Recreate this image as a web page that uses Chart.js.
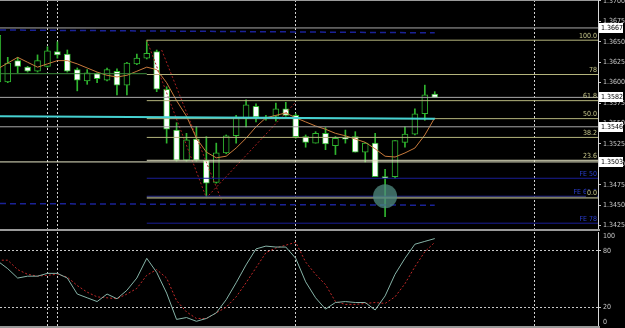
<!DOCTYPE html>
<html>
<head>
<meta charset="utf-8">
<script src="https://cdn.jsdelivr.net/npm/chart.js@4.4.0/dist/chart.umd.min.js"></script>
<style>
  body { margin: 0; background: #000; }
  canvas { position: absolute; left: 0; }
  #price { top: 0; }
  #stoch { top: 231px; }
</style>
</head>
<body>
<canvas id="price" width="625" height="231"></canvas>
<canvas id="stoch" width="625" height="97"></canvas>
<script>
// candles, oldest first (index 0 is cut by the left edge)
var opens  = [1.3601,1.3601,1.3627,1.3619,1.3614,1.3620,1.3638,1.3635,1.3616,1.3602,1.3611,1.3603,1.3614,1.3597,1.3623,1.3630,1.3638,1.3592,1.3542,1.3505,1.3531,1.3505,1.3478,1.3514,1.3535,1.3556,1.3571,1.3558,1.3559,1.3568,1.3560,1.3534,1.3526,1.3538,1.3523,1.3532,1.3534,1.3515,1.3526,1.3485,1.3485,1.3527,1.3537,1.3562,1.3586];
var highs  = [1.3661,1.3631,1.3631,1.3620,1.3634,1.3644,1.3650,1.3640,1.3618,1.3616,1.3612,1.3618,1.3617,1.3625,1.3635,1.3652,1.3640,1.3595,1.3551,1.3538,1.3546,1.3534,1.3526,1.3536,1.3560,1.3579,1.3574,1.3560,1.3575,1.3576,1.3562,1.3536,1.3540,1.3545,1.3534,1.3542,1.3540,1.3527,1.3538,1.3494,1.3529,1.3546,1.3568,1.3597,1.3589];
var lows   = [1.3600,1.3600,1.3612,1.3613,1.3613,1.3619,1.3630,1.3613,1.3590,1.3598,1.3600,1.3602,1.3585,1.3585,1.3622,1.3629,1.3589,1.3526,1.3504,1.3504,1.3504,1.3459,1.3477,1.3513,1.3526,1.3546,1.3552,1.3554,1.3553,1.3559,1.3532,1.3521,1.3526,1.3518,1.3512,1.3526,1.3515,1.3503,1.3485,1.3436,1.3483,1.3521,1.3536,1.3554,1.3582];
var closes = [1.3658,1.3624,1.3620,1.3614,1.3627,1.3639,1.3634,1.3614,1.3603,1.3612,1.3605,1.3616,1.3597,1.3624,1.3630,1.3636,1.3592,1.3543,1.3505,1.3530,1.3505,1.3477,1.3514,1.3535,1.3558,1.3573,1.3558,1.3557,1.3568,1.3560,1.3534,1.3527,1.3538,1.3525,1.3532,1.3531,1.3515,1.3526,1.3485,1.3483,1.3529,1.3537,1.3562,1.3585,1.3582];
var maValues = [1.3617,1.3624,1.3631,1.3625,1.3619,1.3623,1.3627,1.3627,1.3623,1.3618,1.3613,1.3609,1.3607,1.3609,1.3614,1.3619,1.3616,1.3600,1.3578,1.3559,1.3532,1.3515,1.3508,1.3510,1.3520,1.3532,1.3546,1.3557,1.3560,1.3563,1.3557,1.3552,1.3547,1.3543,1.3538,1.3535,1.3531,1.3527,1.3519,1.3510,1.3509,1.3514,1.3520,1.3536,1.3557];

// stochastic
var stochMain   = [69,61,51,53,53,56,56,51,34,30,26,34,29,38,51,72,57,35,7,9,5,8,14,28,46,65,82,85,84,84,72,47,30,18,25,26,25,25,17,32,55,72,87,90,93];
var stochSignal = [70,70,60,55,53,54,55,52,43,36,31,30,29,34,40,54,60,51,27,15,8,8,14,20,31,46,62,78,83,86,89,68,55,44,26,23,23,24,25,24,31,45,63,79,89];

// axis labels
var priceTicks = [1.3425,1.3450,1.3475,1.3500,1.3525,1.3550,1.3575,1.3600,1.3625,1.3650,1.3675,1.3700];
var stochTicks = [0,20,80,100];
var stochLevels = [20,80];
var separators = [5,6,30,54];

// objects on the chart
var markerPrices = [1.3667,1.3582,1.3546,1.3503];
var fibLevels = [1.3652,1.3610,1.3578,1.3556,1.3533,1.3505,1.3459];
var fibLabels = ['100.0','78','61.8','50.0','38.2','23.6','0.0'];
var feLevels = [1.3483,1.3461,1.3428];
var feLabels = ['FE 50','FE 61.8','FE 78'];
var upperTrend = [1.36645,1.3661];
var lowerTrend = [1.3452,1.3450];
var cyanTrend = [1.3559,1.3556];
var greenLevel = 1.3611;
var zigzagX = [15,21,30];
var zigzagY = [1.3652,1.3459,1.3576];
var zigzag2X = [16.5,22.5];
var zigzag2Y = [1.3640,1.3457];
var markX = [39];
var markY = [1.3461];

var X_MIN = 0.22, X_MAX = 60.44;
var LAST = opens.length - 1;
var FIB_START = 15;
var FONT = "'Liberation Sans Narrow', 'DejaVu Sans Condensed', 'Liberation Sans'";
var GREEN = '#2fb52f';

function hline(y, x0, x1, color, width, dash) {
    return {
        type: 'line', data: [{x: x0, y: y[0]}, {x: x1, y: y[1]}],
        borderColor: color, borderWidth: width, borderDash: dash || [],
        pointRadius: 0, order: 2
    };
}

var idx = opens.map(function (v, i) { return i; });

var datasets = [];
// wicks and bodies
datasets.push({
    data: idx.map(function (i) { return {x: i, y: [lows[i], highs[i]]}; }),
    backgroundColor: GREEN, barThickness: 1, grouped: false, order: 10
});
datasets.push({
    data: idx.map(function (i) { return {x: i, y: [opens[i], closes[i]]}; }),
    backgroundColor: idx.map(function (i) { return closes[i] < opens[i] ? '#ffffff' : '#000000'; }),
    borderColor: GREEN, borderWidth: 1, borderSkipped: false,
    barThickness: 6, grouped: false, order: 9
});
// moving average
datasets.push({
    type: 'line', data: idx.map(function (i) { return {x: i, y: maValues[i]}; }),
    borderColor: '#c87a3c', borderWidth: 1, pointRadius: 0, order: 5
});
// zigzag
datasets.push({
    type: 'line', data: zigzagX.map(function (x, k) { return {x: x, y: zigzagY[k]}; }),
    borderColor: '#a82020', borderWidth: 1, borderDash: [2, 2], pointRadius: 0, order: 6
});
datasets.push({
    type: 'line', data: zigzag2X.map(function (x, k) { return {x: x, y: zigzag2Y[k]}; }),
    borderColor: '#a82020', borderWidth: 1, borderDash: [2, 2], pointRadius: 0, order: 6
});
// levels
datasets.push(hline(upperTrend, X_MIN, LAST, '#1a2296', 1.5, [6, 4]));
datasets.push(hline(lowerTrend, X_MIN, LAST, '#1a2296', 1.5, [6, 4]));
datasets.push(hline(cyanTrend, X_MIN, LAST, '#46d2d2', 2));
datasets.push(hline([greenLevel, greenLevel], X_MIN, FIB_START, '#3c8c3c', 1));
fibLevels.forEach(function (p, k) {
    var c = k === 6 ? '#7e7e62' : (k === 5 ? '#e0e0c0' : '#b4b47c');
    datasets.push(hline([p, p], FIB_START, X_MAX, c, k === 6 ? 2 : 1));
});
feLevels.forEach(function (p) {
    datasets.push(hline([p, p], FIB_START, X_MAX, '#1a1e96', 1));
});
markerPrices.forEach(function (p, k) {
    datasets.push(hline([p, p], X_MIN, X_MAX, k === 3 ? '#e8e8c8' : '#a8a8a8', 1));
});
datasets.push({
    type: 'scatter', data: markX.map(function (x, k) { return {x: x, y: markY[k]}; }),
    backgroundColor: 'rgba(80,140,130,0.75)', borderWidth: 0, pointRadius: 12, order: 1
});

var priceDecor = {
    id: 'priceDecor',
    afterDraw: function (chart) {
        var ctx = chart.ctx, ca = chart.chartArea, yS = chart.scales.y;
        ctx.save();
        ctx.fillStyle = '#9a9a9a';
        ctx.fillRect(0, 0, ca.right, 1);
        ctx.fillRect(0, ca.bottom, ca.right + 2, 2);
        ctx.font = '7px ' + FONT;
        ctx.textAlign = 'right';
        ctx.textBaseline = 'bottom';
        feLevels.forEach(function (p, k) {
            ctx.fillStyle = '#2a3ed2';
            ctx.fillText(feLabels[k], ca.right - 1, yS.getPixelForValue(p) - 1);
        });
        fibLevels.forEach(function (p, k) {
            var y = yS.getPixelForValue(p) - 1;
            if (k === 6) {
                var w = ctx.measureText(fibLabels[k]).width;
                ctx.fillStyle = '#000';
                ctx.fillRect(ca.right - 2 - w, y - 7, w + 1, 7);
            }
            ctx.fillStyle = '#c8c88c';
            ctx.fillText(fibLabels[k], ca.right - 1, y);
        });
        ctx.textAlign = 'left';
        ctx.textBaseline = 'middle';
        markerPrices.forEach(function (p) {
            var y = Math.round(yS.getPixelForValue(p));
            ctx.fillStyle = '#ffffff';
            ctx.fillRect(ca.right + 1, y - 5, 24, 10);
            ctx.fillStyle = '#000000';
            ctx.fillText(p.toFixed(4), ca.right + 3, y + 0.5);
        });
        ctx.restore();
    }
};

function noPad(s) {
    s.paddingTop = 0; s.paddingBottom = 0; s.paddingLeft = 0; s.paddingRight = 0;
}

var xAxis = {
    type: 'linear', min: X_MIN, max: X_MAX, offset: false,
    afterBuildTicks: function (s) { s.ticks = separators.map(function (v) { return {value: v}; }); },
    afterFit: function (s) { s.height = 0; noPad(s); },
    ticks: {display: false},
    grid: {color: '#d0d0d0', drawTicks: false, offset: false},
    border: {display: false, dash: [2, 2]}
};

new Chart(document.getElementById('price'), {
    type: 'bar',
    data: {datasets: datasets},
    options: {
        responsive: false, animation: false,
        layout: {autoPadding: false, padding: {left: 0, right: 0, top: 0, bottom: 2}},
        plugins: {legend: {display: false}, tooltip: {enabled: false}},
        scales: {
            x: xAxis,
            y: {
                position: 'right', min: 1.34209, max: 1.37012,
                afterBuildTicks: function (s) { s.ticks = priceTicks.map(function (v) { return {value: v}; }); },
                afterFit: function (s) { s.width = 27; noPad(s); },
                ticks: {
                    autoSkip: false, padding: 2, color: '#c8c8c8',
                    font: {family: FONT, size: 7},
                    callback: function (v) { return v.toFixed(4); }
                },
                grid: {drawOnChartArea: false, drawTicks: true, tickLength: 3, color: '#c8c8c8'},
                border: {display: true, color: '#d8d8d8'}
            }
        }
    },
    plugins: [priceDecor]
});

var stochDecor = {
    id: 'stochDecor',
    afterDraw: function (chart) {
        var ctx = chart.ctx, ca = chart.chartArea, yS = chart.scales.y;
        ctx.save();
        ctx.fillStyle = '#9a9a9a';
        ctx.fillRect(0, ca.bottom, ca.right + 2, 2);
        ctx.font = '7px ' + FONT;
        ctx.fillStyle = '#c8c8c8';
        ctx.textAlign = 'left';
        ctx.textBaseline = 'middle';
        stochTicks.forEach(function (v) {
            var y = Math.min(Math.max(yS.getPixelForValue(v), ca.top + 4), ca.bottom - 4);
            ctx.fillText(String(v), ca.right + 5, y);
        });
        ctx.restore();
    }
};

new Chart(document.getElementById('stoch'), {
    type: 'line',
    data: {
        datasets: [
            {data: idx.map(function (i) { return {x: i, y: stochMain[i]}; }),
             borderColor: '#86b4a8', borderWidth: 1, pointRadius: 0},
            {data: idx.map(function (i) { return {x: i, y: stochSignal[i]}; }),
             borderColor: '#c02828', borderWidth: 1, borderDash: [2, 2], pointRadius: 0}
        ]
    },
    options: {
        responsive: false, animation: false,
        layout: {autoPadding: false, padding: {left: 0, right: 0, top: 1, bottom: 2}},
        plugins: {legend: {display: false}, tooltip: {enabled: false}},
        scales: {
            x: xAxis,
            y: {
                position: 'right', min: 0, max: 100,
                afterBuildTicks: function (s) { s.ticks = stochTicks.map(function (v) { return {value: v}; }); },
                afterFit: function (s) { s.width = 27; noPad(s); },
                ticks: {display: false},
                grid: {
                    drawTicks: true, tickLength: 3,
                    color: function (c) { return stochLevels.indexOf(c.tick.value) >= 0 ? '#c8c8c8' : 'rgba(0,0,0,0)'; }
                },
                border: {display: true, color: '#d8d8d8', dash: [2, 2]}
            }
        }
    },
    plugins: [stochDecor]
});
</script>
</body>
</html>
